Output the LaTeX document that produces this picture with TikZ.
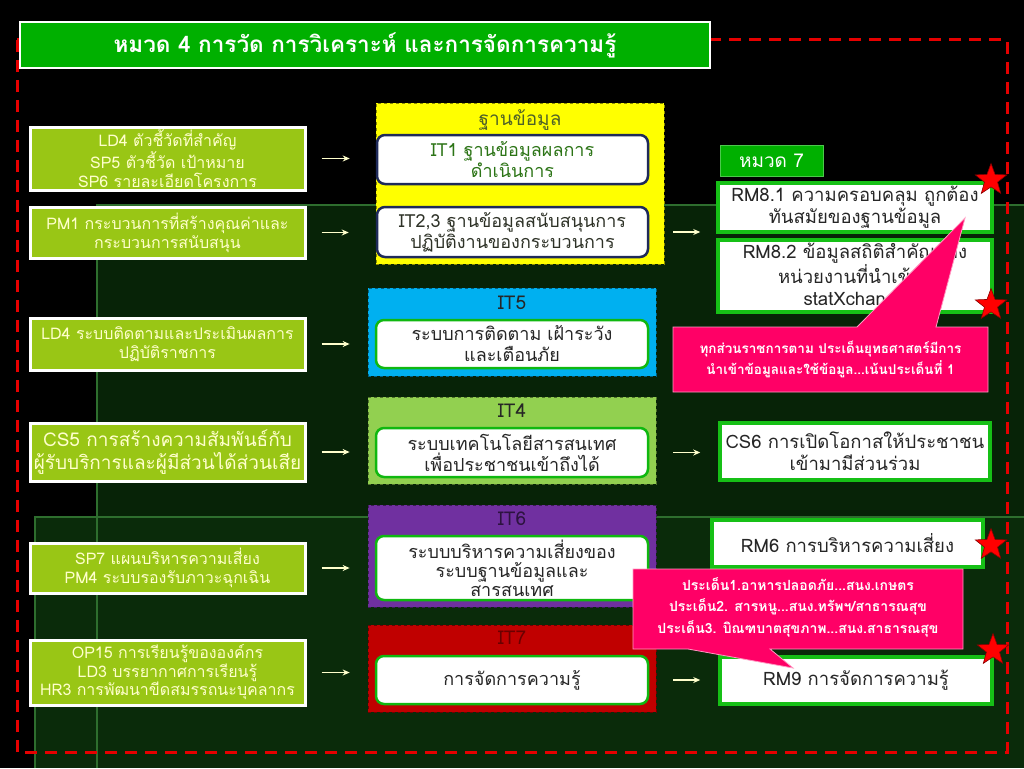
\documentclass[tikz,border=0pt]{standalone}
\usepackage{fontspec}
\setmainfont[Script=Thai]{Loma}
\usetikzlibrary{shapes.geometric,arrows.meta}
\definecolor{titlegreen}{HTML}{00B000}
\definecolor{lbox}{HTML}{99C615}
\definecolor{ltext}{HTML}{FFFFCC}
\definecolor{ycont}{HTML}{FFFF00}
\definecolor{bcont}{HTML}{00B0F0}
\definecolor{gcont}{HTML}{92D050}
\definecolor{pcont}{HTML}{7030A0}
\definecolor{rcont}{HTML}{C00000}
\definecolor{rgreen}{HTML}{16C016}
\definecolor{navy}{HTML}{1F2A5A}
\definecolor{ingreen}{HTML}{10B810}
\definecolor{pink}{HTML}{FF0066}
\definecolor{darktext}{HTML}{262626}
\definecolor{olive}{HTML}{4F6228}
\definecolor{panelA}{HTML}{072307}
\definecolor{panelB}{HTML}{0A2B0A}
\definecolor{panedge}{HTML}{2E6E2E}
\definecolor{dashred}{HTML}{E60000}
\begin{document}
\begin{tikzpicture}[x=1pt,y=-1pt,
  leftbox/.style={draw=white, line width=3pt, fill=lbox, text=ltext, minimum width=275pt,
    inner sep=0pt, align=center, font=\fontsize{16}{19}\selectfont},
  cont/.style={draw=#1!55!black, dashed, line width=0.7pt, fill=#1, minimum width=288pt, inner sep=0pt},
  ctitle/.style={font=\fontsize{19}{20}\selectfont, inner sep=0pt},
  innerb/.style={draw=ingreen, line width=2.5pt, fill=white, rounded corners=8pt, minimum width=272pt,
    inner sep=0pt, align=center, text=darktext, font=\fontsize{18}{21}\selectfont},
  rbox/.style={draw=rgreen, line width=3.5pt, fill=white, inner sep=0pt, align=center,
    text=darktext, font=\fontsize{18.5}{22}\selectfont},
  arr/.style={draw=ltext, line width=1.4pt, -{Stealth[length=7pt,width=6pt]}},
  callout/.style={fill=pink, draw=pink!40!white, line width=0.8pt},
  ctext/.style={text=white, align=center, inner sep=0pt, font=\bfseries\fontsize{13.5}{20.5}\selectfont},
  redstar/.style={star, star points=5, star point ratio=2.4, fill=red, draw=red!55!black,
    line width=0.6pt, minimum size=33pt, inner sep=0pt}
]
\useasboundingbox (0,0) rectangle (1024,768);
\fill[black] (0,0) rectangle (1024,768);
% background panels
\fill[panelA] (97,205) rectangle (1024,768);
\draw[panedge, line width=2.5pt] (97,768) -- (97,205) -- (1024,205);
\fill[panelB] (35,517) rectangle (1024,768);
\draw[panedge, line width=2.5pt] (35,768) -- (35,517) -- (1024,517);
\draw[panedge, line width=2pt] (97,517) -- (97,768);
% red dashed frame
\draw[dashred, line width=3pt, dash pattern=on 12pt off 8pt] (17,40) rectangle (1007,752);
% title
\node[draw=white, line width=2.5pt, fill=titlegreen, minimum width=690pt, minimum height=46pt,
  text=white, font=\bfseries\fontsize{22.5}{24}\selectfont] (title) at (365,45)
  {หมวด 4 การวัด การวิเคราะห์ และการจัดการความรู้};
% left column
\node[leftbox, minimum height=63pt] (l1) at (167.5,158.5)
  {LD4 ตัวชี้วัดที่สำคัญ\\SP5 ตัวชี้วัด เป้าหมาย\\SP6 รายละเอียดโครงการ};
\node[leftbox, minimum height=51pt] (l2) at (167.5,232.5)
  {PM1 กระบวนการที่สร้างคุณค่าและ\\กระบวนการสนับสนุน};
\node[leftbox, minimum height=52pt] (l3) at (167.5,344)
  {LD4 ระบบติดตามและประเมินผลการ\\ปฏิบัติราชการ};
\node[leftbox, minimum height=58pt, font=\fontsize{19}{23}\selectfont] (l4) at (167.5,452)
  {CS5 การสร้างความสัมพันธ์กับ\\ผู้รับบริการและผู้มีส่วนได้ส่วนเสีย};
\node[leftbox, minimum height=50pt] (l5) at (167.5,568)
  {SP7 แผนบริหารความเสี่ยง\\PM4 ระบบรองรับภาวะฉุกเฉิน};
\node[leftbox, minimum height=65pt, font=\fontsize{16}{18.5}\selectfont] (l6) at (167.5,672.5)
  {OP15 การเรียนรู้ขององค์กร\\LD3 บรรยากาศการเรียนรู้\\HR3 การพัฒนาขีดสมรรถนะบุคลากร};
% middle column
\node[cont=ycont, minimum height=161pt] (yc) at (520,183.5) {};
\node[ctitle, text=olive] (ytitle) at (520,120) {ฐานข้อมูล};
\node[innerb, draw=navy, minimum width=271pt, minimum height=49pt, text=olive!70!green!80!black] (it1) at (512.5,159.5)
  {IT1 ฐานข้อมูลผลการ\\ดำเนินการ};
\node[innerb, draw=navy, minimum width=271pt, minimum height=50pt, text=darktext!80!olive] (it23) at (512.5,232)
  {IT2,3 ฐานข้อมูลสนับสนุนการ\\ปฏิบัติงานของกระบวนการ};
\node[cont=bcont, minimum height=88pt] (bc) at (512,332) {};
\node[ctitle, text=darktext] (btitle) at (512,303) {IT5};
\node[innerb, minimum height=48pt] (it5) at (512,344)
  {ระบบการติดตาม เฝ้าระวัง\\และเตือนภัย};
\node[cont=gcont, minimum height=87pt] (gc) at (512,440.5) {};
\node[ctitle, text=darktext] (gtitle) at (512,411) {IT4};
\node[innerb, minimum height=49pt] (it4) at (512,452.5)
  {ระบบเทคโนโลยีสารสนเทศ\\เพื่อประชาชนเข้าถึงได้};
\node[cont=pcont, minimum height=102pt] (pc) at (512,556) {};
\node[ctitle, text=pcont!40!black] (ptitle) at (512,519) {IT6};
\node[innerb, minimum height=64pt, font=\fontsize{18}{19}\selectfont] (it6) at (512,568)
  {ระบบบริหารความเสี่ยงของ\\ระบบฐานข้อมูลและ\\สารสนเทศ};
\node[cont=rcont, minimum height=87pt] (rc) at (512,668.5) {};
\node[ctitle, text=rcont!55!black] (rtitle) at (512,638) {IT7};
\node[innerb, minimum height=48pt] (it7) at (512,680) {การจัดการความรู้};
% right column
\node[fill=titlegreen, draw=titlegreen!70!white, line width=0.8pt, minimum width=103pt, minimum height=31pt,
  inner sep=0pt, text=white, font=\fontsize{19}{20}\selectfont] (h7) at (771.5,160.5) {หมวด 7};
\node[rbox, minimum width=274pt, minimum height=49pt] (rm81) at (855,207.5)
  {RM8.1 ความครอบคลุม ถูกต้อง\\ทันสมัยของฐานข้อมูล};
\node[rbox, minimum width=274pt, minimum height=72pt] (rm82) at (855,276)
  {RM8.2 ข้อมูลสถิติสำคัญของ\\หน่วยงานที่นำเข้าสู่\\statXchange};
\node[rbox, minimum width=270pt, minimum height=57pt] (cs6) at (855,451.5)
  {CS6 การเปิดโอกาสให้ประชาชน\\เข้ามามีส่วนร่วม};
\node[rbox, minimum width=271pt, minimum height=47pt] (rm6) at (847.5,543.5)
  {RM6 การบริหารความเสี่ยง};
\node[rbox, minimum width=272pt, minimum height=47pt] (rm9) at (856,680.5)
  {RM9 การจัดการความรู้};
% arrows
\draw[arr, shorten <=15pt, shorten >=26pt] (l1.east) -- (it1.west |- l1.east);
\draw[arr, shorten <=15pt, shorten >=27pt] (l2.east) -- (it23.west |- l2.east);
\draw[arr, shorten <=15pt, shorten >=18pt] (l3.east) -- (bc.west |- l3.east);
\draw[arr, shorten <=15pt, shorten >=18pt] (l4.east) -- (gc.west |- l4.east);
\draw[arr, shorten <=15pt, shorten >=18pt] (l5.east) -- (pc.west |- l5.east);
\draw[arr, shorten <=15pt, shorten >=18pt] (l6.east) -- (rc.west |- l6.east);
\draw[arr, shorten <=24pt, shorten >=16pt] (it23.east) -- (rm81.west |- it23.east);
\draw[arr, shorten <=24pt, shorten >=18pt] (it4.east) -- (cs6.west |- it4.east);
\draw[arr, shorten <=24pt, shorten >=18pt] (it7.east) -- (rm9.west |- it7.east);
% callouts
\draw[callout] (673,327) -- (857,327) -- (965,218) -- (936,327) -- (988,327) -- (988,392) -- (673,392) -- cycle;
\node[ctext] (c1) at (830.5,359.5)
  {ทุกส่วนราชการตาม ประเด็นยุทธศาสตร์มีการ\\นำเข้าข้อมูลและใช้ข้อมูล...เน้นประเด็นที่ 1};
\draw[callout] (633,569) -- (963,569) -- (963,649) -- (770,649) -- (793,668) -- (688,649) -- (633,649) -- cycle;
\node[ctext, font=\bfseries\fontsize{14}{21.5}\selectfont] (c2) at (798,607)
  {ประเด็น1.อาหารปลอดภัย...สนง.เกษตร\\ประเด็น2. สารหนู...สนง.ทรัพฯ/สาธารณสุข\\ประเด็น3. บิณฑบาตสุขภาพ...สนง.สาธารณสุข};
% stars
\node[redstar] (s1) at (991,180) {};
\node[redstar] (s2) at (991,305) {};
\node[redstar] (s3) at (991,545) {};
\node[redstar] (s4) at (993,650) {};
\end{tikzpicture}
\end{document}
